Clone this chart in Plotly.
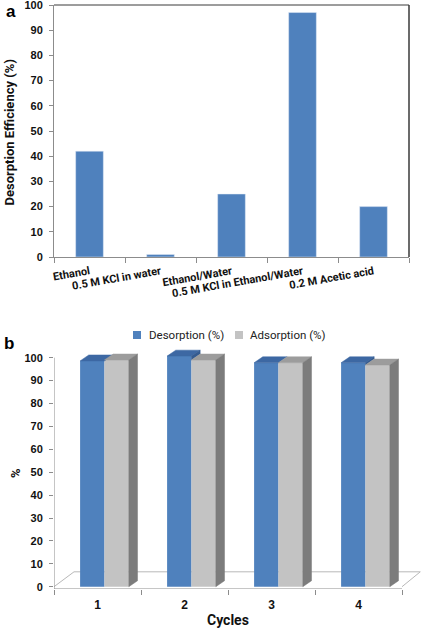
import plotly.graph_objects as go

# ---------------- data ----------------
solvents = ["Ethanol", "0.5 M KCl in water", "Ethanol/Water",
            "0.5 M KCl in Ethanol/Water", "0.2 M Acetic acid"]
efficiency = [42, 1, 25, 97, 20]

cycles = ["1", "2", "3", "4"]
desorption = [98.6, 100.7, 97.8, 97.8]
adsorption = [99.0, 99.0, 97.8, 96.8]
series_names = ["Desorption (%)", "Adsorption (%)"]

yticks = list(range(0, 101, 10))

# ---------------- style ----------------
BLUE = "#4f81bd"
BLUE_TOP = "#3d68a3"
BLUE_SIDE = "#345b90"
GRAY = "#c3c3c3"
GRAY_TOP = "#9c9c9c"
GRAY_SIDE = "#7c7c7c"
AXIS = "#8c8c8c"
NUM_FONT = "Liberation Sans"
TXT_FONT = "Roboto"
H = 629.0
Wd = 425.0

W = 0.28        # bar width (category units)
OFF_D = -0.20   # desorption bar offset
OFF_A = 0.08    # adsorption bar offset
DX = 0.10       # 3D depth, x
DY = 2.6        # 3D depth, y

fig = go.Figure()

# ---------------- panel a ----------------
fig.add_trace(go.Bar(x=solvents, y=efficiency, marker_color=BLUE, width=0.39,
                     xaxis="x", yaxis="y", showlegend=False))

# ---------------- panel b ----------------
pos = [i + 1 for i in range(len(cycles))]
fig.add_trace(go.Bar(x=pos, y=desorption, width=W, offset=OFF_D, name=series_names[0],
                     marker=dict(color=BLUE, line=dict(width=0)), xaxis="x2", yaxis="y2",
                     showlegend=False))
fig.add_trace(go.Bar(x=pos, y=adsorption, width=W, offset=OFF_A, name=series_names[1],
                     marker=dict(color=GRAY, line=dict(width=0)), xaxis="x2", yaxis="y2",
                     showlegend=False))


def polys(xs_list, ys_list):
    X, Y = [], []
    for xs, ys in zip(xs_list, ys_list):
        X += xs + [None]
        Y += ys + [None]
    return X, Y


bx, by = polys(
    [[p + OFF_D, p + OFF_D + DX, p + OFF_D + W + DX, p + OFF_D + W, p + OFF_D] for p in pos],
    [[d, d + DY, d + DY, d, d] for d in desorption])
sx, sy = [], []
for p, d, a in zip(pos, desorption, adsorption):
    if d > a:
        l = p + OFF_D + W
        sx += [l, l + DX, l + DX, l, l, None]
        sy += [a, a + DY, d + DY, d, a, None]
gx, gy = polys(
    [[p + OFF_A, p + OFF_A + DX, p + OFF_A + W + DX, p + OFF_A + W, p + OFF_A] for p in pos],
    [[a, a + DY, a + DY, a, a] for a in adsorption])
rx, ry = polys(
    [[p + OFF_A + W, p + OFF_A + W + DX, p + OFF_A + W + DX, p + OFF_A + W, p + OFF_A + W] for p in pos],
    [[0, DY, a + DY, a, 0] for a in adsorption])

for X, Y, c in [(bx, by, BLUE_TOP), (sx, sy, BLUE_SIDE), (gx, gy, GRAY_TOP), (rx, ry, GRAY_SIDE)]:
    if X:
        fig.add_trace(go.Scatter(x=X, y=Y, mode="lines", fill="toself", fillcolor=c,
                                 line=dict(color=c, width=0.5), hoverinfo="skip",
                                 showlegend=False, xaxis="x2", yaxis="y2"))

numfont = dict(family=NUM_FONT, size=11, color="#111", weight="bold")

fig.update_layout(
    width=425, height=629,
    margin=dict(l=0, r=0, t=0, b=0, autoexpand=False),
    paper_bgcolor="white", plot_bgcolor="rgba(0,0,0,0)",
    barmode="overlay", bargap=0.61,
    showlegend=False,
    xaxis=dict(domain=[54 / Wd, 409 / Wd], anchor="y", type="category", automargin=False,
               range=[-0.5, 4.5], tickson="boundaries", ticks="outside", ticklen=5,
               tickcolor=AXIS, showline=True, linecolor=AXIS, linewidth=1,
               tickangle=-10, showgrid=False, ticklabelstandoff=3,
               tickfont=dict(family=TXT_FONT, size=11, color="#111", weight="bold")),
    yaxis=dict(domain=[1 - 257 / H, 1 - 5 / H], anchor="x", range=[0, 100], automargin=False,
               tickvals=yticks, ticks="outside", ticklen=4, tickcolor=AXIS,
               showline=True, linecolor=AXIS, linewidth=1, showgrid=False,
               zeroline=False, tickfont=numfont, ticklabelstandoff=4,
               ticklabeloverflow="allow"),
    xaxis2=dict(domain=[54 / Wd, 423.75 / Wd], anchor="y2", range=[0.5, 4.75], automargin=False,
                tickvals=pos, ticktext=cycles, ticks="", showline=False, showgrid=False,
                zeroline=False,
                minor=dict(tickvals=[0.5, 1.5, 2.5, 3.5, 4.5], ticks="outside", ticklen=5,
                           tickcolor=AXIS, showgrid=False),
                tickfont=dict(family=NUM_FONT, size=12, color="#111", weight="bold"),
                ticklabelstandoff=7),
    yaxis2=dict(domain=[1 - 589 / H, 1 - 347.4 / H], anchor="x2", range=[-1, 104.5],
                automargin=False,
                tickvals=yticks, ticks="outside", ticklen=4, tickcolor=AXIS,
                showline=False, showgrid=False, zeroline=False, tickfont=numfont,
                ticklabelstandoff=4),
)

shapes = [
    dict(type="line", xref="x domain", yref="y domain", x0=0, x1=1, y0=1, y1=1,
         line=dict(color="#3a3a3a", width=1)),
    dict(type="line", xref="x domain", yref="y domain", x0=1, x1=1, y0=0, y1=1,
         line=dict(color="#3a3a3a", width=1.5)),
    dict(type="line", xref="x2", yref="y2", x0=0.5, x1=0.5, y0=-1, y1=100,
         line=dict(color=AXIS, width=1)),
    dict(type="line", xref="x2", yref="y2", x0=0.5, x1=4.5, y0=-1, y1=-1,
         line=dict(color=AXIS, width=1)),
    dict(type="path", xref="x2", yref="y2", path="M 0.5,0 L 0.73,6.5 L 4.71,6.5 L 4.5,0",
         line=dict(color="#b8b8b8", width=1), layer="below"),
    dict(type="rect", xref="paper", yref="paper", x0=133 / Wd, x1=141 / Wd,
         y0=1 - 339 / H, y1=1 - 331 / H, fillcolor=BLUE, line=dict(width=0)),
    dict(type="rect", xref="paper", yref="paper", x0=235 / Wd, x1=243 / Wd,
         y0=1 - 339 / H, y1=1 - 331 / H, fillcolor=GRAY, line=dict(width=0)),
]
fig.update_layout(shapes=shapes)

ann = [
    dict(text="a", x=4 / Wd, y=1 - 0 / H, xanchor="left", yanchor="top",
         font=dict(family=NUM_FONT, size=17, color="#000", weight="bold")),
    dict(text="b", x=2 / Wd, y=1 - 332 / H, xanchor="left", yanchor="top",
         font=dict(family=NUM_FONT, size=17, color="#000", weight="bold")),
    dict(text="Desorption Efficiency (%)", textangle=-90, x=8.5 / Wd, y=1 - 133 / H,
         xanchor="center", yanchor="middle",
         font=dict(family=TXT_FONT, size=13, color="#111", weight="bold")),
    dict(text="%", textangle=-90, x=15 / Wd, y=1 - 473 / H,
         xanchor="center", yanchor="middle",
         font=dict(family=TXT_FONT, size=13, color="#111", weight="bold")),
    dict(text="Cycles", x=228 / Wd, y=1 - 620 / H, xanchor="center", yanchor="middle",
         font=dict(family=TXT_FONT, size=14, color="#111", weight="bold")),
    dict(text=series_names[0], x=147 / Wd, y=1 - 335 / H, xanchor="left", yanchor="middle",
         font=dict(family=TXT_FONT, size=11.5, color="#222")),
    dict(text=series_names[1], x=248 / Wd, y=1 - 335 / H, xanchor="left", yanchor="middle",
         font=dict(family=TXT_FONT, size=11.5, color="#222")),
]
for a in ann:
    a.update(xref="paper", yref="paper", showarrow=False)
fig.update_layout(annotations=ann)

fig.write_html("out.html", config={"displayModeBar": False},
               post_script="document.body.style.margin='0';document.body.style.padding='0';"
                           "document.body.style.overflow='hidden';")
